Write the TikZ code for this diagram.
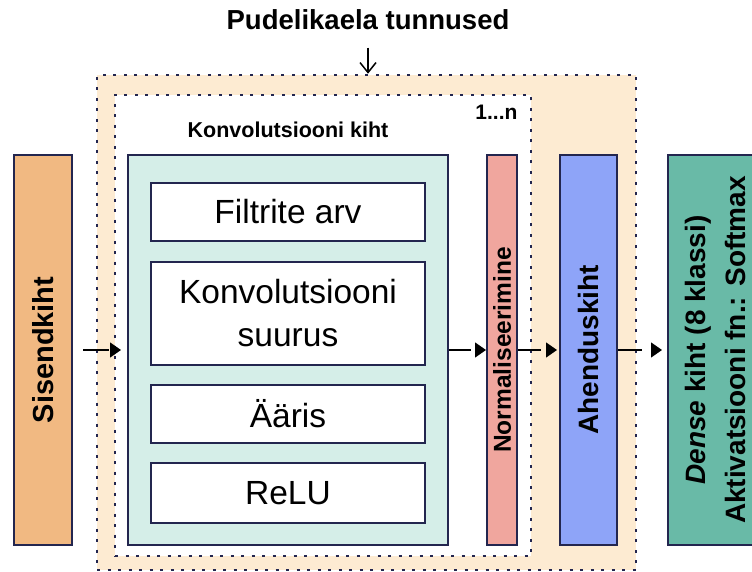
\documentclass[tikz,border=0pt]{standalone}
\usepackage{fontspec}
\setmainfont{Liberation Sans}
\usepackage{tikz}
\usetikzlibrary{arrows.meta, positioning}
\definecolor{randjoon}{HTML}{23264F}
\definecolor{virsik}{HTML}{FDEBD2}
\definecolor{oranz}{HTML}{F1B982}
\definecolor{helerohe}{HTML}{D5EEE8}
\definecolor{roosa}{HTML}{F0A69E}
\definecolor{sinine}{HTML}{8EA4F8}
\definecolor{roheline}{HTML}{69BAA7}
\newcommand{\kihifont}{\bfseries\fontsize{28}{40}\selectfont}
\tikzstyle{kiht} = [draw=randjoon, line width=2pt, inner sep=0pt, align=center]
\tikzstyle{valik} = [kiht, fill=white, minimum width=274pt, font=\fontsize{33.5}{43}\selectfont]
\tikzstyle{raam} = [draw=randjoon, line width=2.5pt, dash pattern=on 3pt off 7.5pt]
\tikzstyle{joon} = [line width=1.3pt]
\tikzstyle{noolepea} = [line width=1.3pt, line cap=butt, dash pattern=on 0pt off 1000pt, -{Triangle[length=11pt,width=15pt]}]

\begin{document}
\begin{tikzpicture}[x=1pt, y=-1pt]
            \clip (0,0) rectangle (752,572);
            % raamid
            \node[raam, fill=virsik, minimum width=539pt, minimum height=495pt] (valine) at (366.5,322.5) {};
            \node[raam, fill=white, minimum width=416pt, minimum height=461pt] (sisemine) at (323,325.5) {};
            \node[font=\bfseries\fontsize{21}{24}\selectfont, anchor=east] (kordus) at (521,112) {1...n};
            \node[font=\bfseries\fontsize{21.5}{24}\selectfont] (konvnimi) at (288,130) {Konvolutsiooni kiht};
            \node[font=\bfseries\fontsize{27.5}{30}\selectfont] (pealkiri) at (368,20) {Pudelikaela tunnused};
            % kihid
            \node[kiht, fill=oranz, minimum width=58pt, minimum height=390pt] (sisend) at (43,350) {\rotatebox{90}{\bfseries\fontsize{29}{32}\selectfont Sisendkiht}};
            \node[kiht, fill=helerohe, minimum width=320pt, minimum height=390pt] (konv) at (288,350) {};
            \node[valik, minimum height=58pt] (filtrid) at (288,212) {Filtrite arv};
            \node[valik, minimum height=103pt] (suurus) at (288,313.5) {Konvolutsiooni\\suurus};
            \node[valik, minimum height=58pt] (aaris) at (288,414) {Ääris};
            \node[valik, minimum height=60pt] (relu) at (288,493) {ReLU};
            \node[kiht, fill=roosa, minimum width=30pt, minimum height=390pt] (norm) at (502,350) {\rotatebox{90}{\bfseries\fontsize{24.5}{28}\selectfont Normaliseerimine}};
            \node[kiht, fill=sinine, minimum width=57pt, minimum height=390pt] (ahendus) at (588.5,350) {\rotatebox{90}{\kihifont Ahenduskiht}};
            \node[kiht, fill=roheline, minimum width=98pt, minimum height=390pt] (dense) at (717,350) {\rotatebox{90}{\kihifont\begin{tabular}{@{}c@{}}\textit{Dense} kiht (8 klassi)\\Aktivatsiooni fn.: Softmax\end{tabular}}};
            % nooled
            \draw[line width=1.5pt, -{Straight Barb[length=10pt,width=16pt]}, shorten <=14pt] (pealkiri.south) -- (pealkiri.south |- valine.north);
            \draw[joon, shorten <=10pt, shorten >=18pt] (sisend.east) -- (konv.west);
            \draw[noolepea, shorten >=6pt] (sisend.east) -- (konv.west);
            \draw[joon, shorten >=15pt] (konv.east) -- (norm.west);
            \draw[noolepea] (konv.east) -- (norm.west);
            \draw[joon, shorten >=18pt] (norm.east) -- (ahendus.west);
            \draw[noolepea, shorten >=2pt] (norm.east) -- (ahendus.west);
            \draw[joon, shorten >=25pt] (ahendus.east) -- (dense.west);
            \draw[noolepea, shorten >=5pt] (ahendus.east) -- (dense.west);
        \end{tikzpicture}
\end{document}
